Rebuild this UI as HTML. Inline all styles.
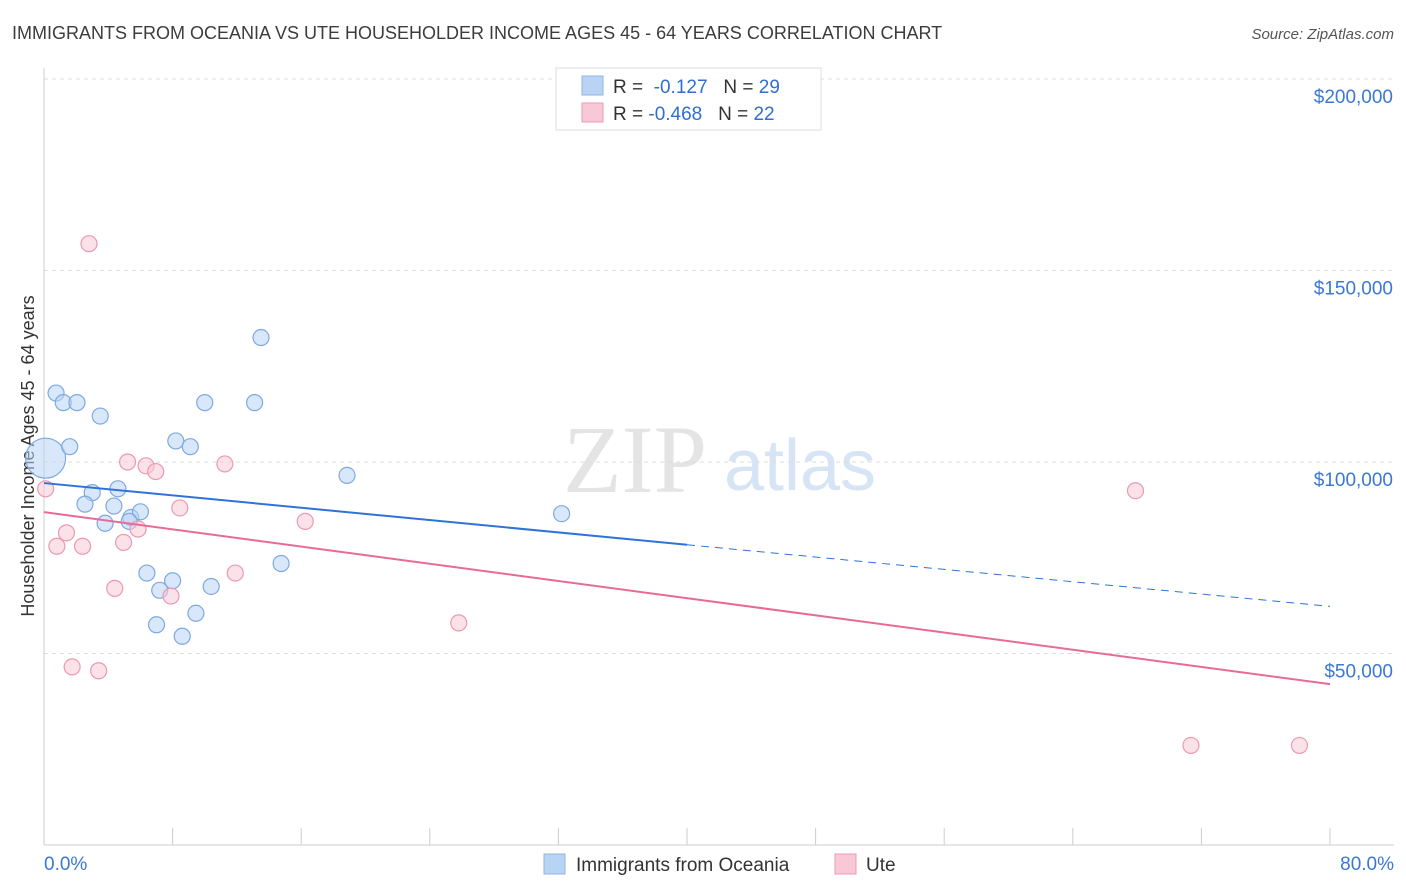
<!DOCTYPE html>
<html><head><meta charset="utf-8">
<style>
body{margin:0;background:#fff;font-family:"Liberation Sans",sans-serif;}
svg{display:block}
</style></head>
<body>
<svg id="chart" width="1406" height="892">
<text x="12" y="39" font-size="18" fill="#3c3c3c">IMMIGRANTS FROM OCEANIA VS UTE HOUSEHOLDER INCOME AGES 45 - 64 YEARS CORRELATION CHART</text>
<text x="1394" y="39" font-size="15" fill="#555" font-style="italic" text-anchor="end">Source: ZipAtlas.com</text>
<text x="635" y="492" font-size="96" fill="#e4e4e4" font-family="Liberation Serif,serif" text-anchor="middle">ZIP</text>
<text x="800" y="490" font-size="72" fill="#d6e4f5" text-anchor="middle">atlas</text>
<text transform="translate(34,456) rotate(-90)" font-size="18" fill="#333" text-anchor="middle">Householder Income Ages 45 - 64 years</text>
<g id="grid"></g><g id="marks"></g>
<g>
<rect x="556" y="68" width="265" height="62" fill="#fff" stroke="#ddd"/>
<rect x="582" y="76" width="21" height="19" fill="#b9d3f5" stroke="#8fb4e6"/>
<text x="613" y="93" font-size="19" fill="#333">R = <tspan fill="#2f6fd0">&#160;-0.127</tspan>&#160;&#160;&#160;N = <tspan fill="#2f6fd0">29</tspan></text>
<rect x="582" y="103" width="21" height="19" fill="#f8c8d6" stroke="#ee9ab4"/>
<text x="613" y="120" font-size="19" fill="#333">R = <tspan fill="#2f6fd0">-0.468</tspan>&#160;&#160;&#160;N = <tspan fill="#2f6fd0">22</tspan></text>
</g>
<g>
<rect x="544" y="854" width="21" height="20" fill="#b9d3f5" stroke="#8fb4e6"/>
<text x="576" y="871" font-size="19" fill="#333">Immigrants from Oceania</text>
<rect x="835" y="854" width="21" height="20" fill="#f8c8d6" stroke="#ee9ab4"/>
<text x="866" y="871" font-size="19" fill="#333">Ute</text>
</g>
</svg>
<script>
const yTicks=[50000,100000,150000,200000];
const yTickLabels=["$50,000","$100,000","$150,000","$200,000"];
const xTickLabels=["0.0%","80.0%"];
const blueX=[0.1,0.75,1.2,2.05,1.6,3.5,3.0,2.55,4.6,4.35,3.8,5.4,6.0,6.4,7.2,8.0,7.0,8.6,9.45,10.4,8.2,9.1,10.0,13.1,13.5,14.75,18.85,32.2,5.3];
const blueY=[101000,118000,115500,115500,104000,112000,92000,89000,93000,88500,84000,85500,87000,71000,66500,69000,57500,54500,60500,67500,105500,104000,115500,115500,132500,73500,96500,86500,84500];
const pinkX=[0.1,2.8,0.8,1.4,2.4,1.75,3.4,4.4,4.95,5.2,5.85,6.35,6.95,7.9,8.45,11.25,11.9,16.25,25.8,67.9,71.35,78.1];
const pinkY=[93000,157000,78000,81500,78000,46500,45500,67000,79000,100000,82500,99000,97500,65000,88000,99500,71000,84500,58000,92500,26000,26000];
const blueTrend=[94500,62300];
const pinkTrend=[86900,42000];
const NS="http://www.w3.org/2000/svg";
const X=p=>44+p*(1286/80);
const Y=v=>845-v*(383/100000);
function mk(t,a,parent){const e=document.createElementNS(NS,t);for(const k in a)e.setAttribute(k,a[k]);parent.appendChild(e);return e;}
const grid=document.getElementById('grid'),marks=document.getElementById('marks');
yTicks.forEach((v,i)=>{
 const l=mk('line',{x1:44,x2:1394,y1:Y(v),y2:Y(v),stroke:'#ddd','stroke-dasharray':'4,4'},grid);
 
 
 const t=mk('text',{x:1393,y:Y(v)+24,'font-size':19,fill:'#3a78d4','text-anchor':'end'},grid);
 t.textContent=yTickLabels[i];
 
 
});
const ax=mk('line',{x1:44,x2:1394,y1:845,y2:845,stroke:'#ccc'},grid);


const ay=mk('line',{x1:44,x2:44,y1:68,y2:845,stroke:'#ccc'},grid);


for(let p=0;p<=80;p+=8){
 const tk=mk('line',{x1:X(p),x2:X(p),y1:828,y2:845,stroke:'#ccc'},grid);
 
 
}
[[0,'start',44],[80,'end',1394]].forEach((d,i)=>{
 const t=mk('text',{x:d[2],y:870,'font-size':19,fill:'#3a78d4','text-anchor':d[1]},grid);
 t.textContent=xTickLabels[i];
 
 
});
blueX.forEach((x,i)=>{
 const c=mk('circle',{cx:X(x),cy:Y(blueY[i]),r:i==0?20:8,fill:'rgba(185,211,245,0.55)',stroke:'#7ea9e0','stroke-width':1.2},marks);
 
 
});
pinkX.forEach((x,i)=>{
 const c=mk('circle',{cx:X(x),cy:Y(pinkY[i]),r:8,fill:'rgba(248,200,214,0.55)',stroke:'#eb99b3','stroke-width':1.2},marks);
 
 
});
const bAt=p=>blueTrend[0]+(blueTrend[1]-blueTrend[0])*p/80;
const b1=mk('line',{x1:X(0),y1:Y(bAt(0)),x2:X(40),y2:Y(bAt(40)),stroke:'#2f73d8','stroke-width':2},marks);


const b2=mk('line',{x1:X(40),y1:Y(bAt(40)),x2:X(80),y2:Y(bAt(80)),stroke:'#2f73d8','stroke-width':1,'stroke-dasharray':'8,6'},marks);


const p1=mk('line',{x1:X(0),y1:Y(pinkTrend[0]),x2:X(80),y2:Y(pinkTrend[1]),stroke:'#e86a97','stroke-width':2},marks);


</script>
</body></html>
